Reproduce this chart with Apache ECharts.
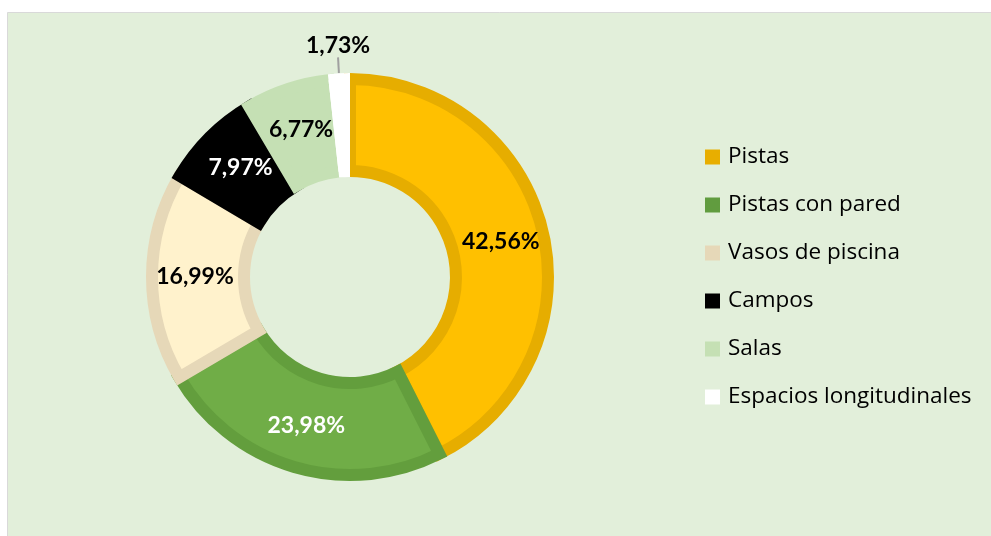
<!DOCTYPE html>
<html>
<head>
<meta charset="utf-8">
<script src="https://cdn.jsdelivr.net/npm/echarts@6/dist/echarts.min.js"></script>
<style>
  html, body { margin: 0; padding: 0; background: #ffffff; }
  #chart { width: 991px; height: 536px; }
</style>
</head>
<body>
<div id="chart"></div>
<script>
// datos del gráfico
var categories = ["Pistas", "Pistas con pared", "Vasos de piscina", "Campos", "Salas", "Espacios longitudinales"];
var values = [42.56, 23.98, 16.99, 7.97, 6.77, 1.73];
var fillColors = ["#FFC000", "#70AD47", "#FFF2CC", "#000000", "#C5E0B4", "#FFFFFF"];
var borderColors = ["#E6AD00", "#639E3D", "#E6D8B8", "#000000", "#C5E0B4", "#FFFFFF"];
var legendColors = ["#E8AE00", "#619C3F", "#E6D8B8", "#000000", "#C5E0B4", "#FFFFFF"];
var labelColors = ["#000000", "#FFFFFF", "#000000", "#FFFFFF", "#000000", "#000000"];

var chart = echarts.init(document.getElementById("chart"));

function fmt(p) {
  return p.value.toFixed(2).replace(".", ",") + "%";
}

// anillo principal (con borde interior)
var mainData = categories.map(function(name, i) {
  return {
    name: name,
    value: values[i],
    itemStyle: {
      color: fillColors[i],
      borderColor: borderColors[i],
      borderWidth: i === 5 ? 0 : 12,
      borderJoin: "miter"
    },
    label: { show: i !== 5, color: labelColors[i] }
  };
});

// capa encima solo para el sector blanco (sin borde) y su etiqueta exterior
var thinData = categories.map(function(name, i) {
  var item = {
    name: name,
    value: values[i],
    itemStyle: { color: i === 5 ? fillColors[i] : "rgba(0,0,0,0)" },
    label: { show: i === 5, color: labelColors[i] },
    labelLine: { show: false }
  };
  if (i === 5) {
    item.labelLine = {
      show: true,
      length: 16,
      length2: 0,
      lineStyle: { color: "#A0A0A0", width: 2 }
    };
  }
  return item;
});

var labelFont = {
  fontFamily: "Lato",
  fontWeight: "bold",
  fontSize: 23,
  formatter: fmt
};

var option = {
  animation: false,
  graphic: [
    {
      type: "rect",
      left: 7,
      top: 12,
      z: -10,
      shape: { width: 990, height: 530 },
      style: { fill: "#E2EFDA", stroke: "#D9D9D9", lineWidth: 1 }
    }
  ],
  legend: {
    orient: "vertical",
    left: 705,
    top: 145,
    padding: 0,
    icon: "rect",
    itemWidth: 15,
    itemHeight: 15,
    itemGap: 24,
    itemStyle: { borderWidth: 0 },
    textStyle: {
      fontFamily: "Open Sans",
      fontSize: 22.5,
      color: "#000000",
      lineHeight: 24,
      padding: [0, 0, 0, 3]
    },
    data: categories.map(function(name, i) {
      return { name: name, itemStyle: { color: legendColors[i], borderWidth: 0 } };
    })
  },
  series: [
    {
      type: "pie",
      center: [350, 277],
      radius: [106, 198],
      startAngle: 90,
      clockwise: true,
      avoidLabelOverlap: false,
      label: Object.assign({ show: true, position: "inside" }, labelFont),
      emphasis: { disabled: true },
      data: mainData
    },
    {
      type: "pie",
      center: [350, 277],
      radius: [100, 204],
      startAngle: 90,
      clockwise: true,
      avoidLabelOverlap: false,
      silent: true,
      label: Object.assign({ position: "outside", distanceToLabelLine: 0 }, labelFont),
      labelLayout: function(p) {
        if (p.dataIndex === 5) {
          return { align: "center", verticalAlign: "bottom" };
        }
        return {};
      },
      emphasis: { disabled: true },
      data: thinData
    }
  ]
};

chart.setOption(option);
</script>
</body>
</html>
